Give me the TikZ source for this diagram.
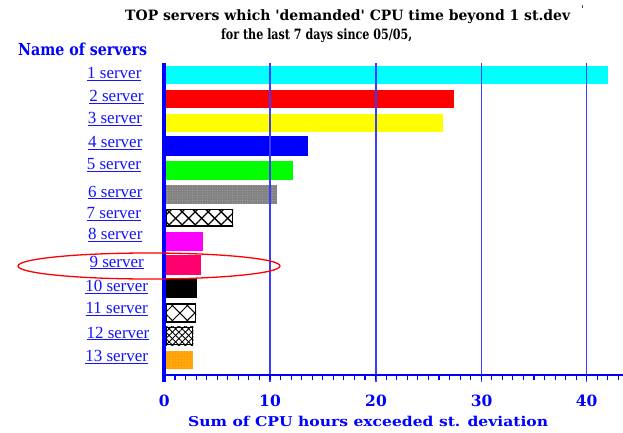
\documentclass[tikz,border=0pt]{standalone}
\usepackage{fontspec}
\setmainfont{Liberation Serif}
\newfontfamily\heavyserif{DejaVu Serif}
\usepackage{graphicx}
\usetikzlibrary{patterns.meta}
\definecolor{axisblue}{RGB}{0,0,255}
\definecolor{gridblue}{RGB}{60,60,255}
\definecolor{linkblue}{RGB}{20,20,255}
\definecolor{barcyan}{RGB}{0,255,255}
\definecolor{barred}{RGB}{255,0,0}
\definecolor{baryellow}{RGB}{255,255,0}
\definecolor{barblue}{RGB}{0,0,255}
\definecolor{bargreen}{RGB}{0,255,0}
\definecolor{bargray}{RGB}{130,130,130}
\definecolor{bargraydot}{RGB}{170,170,170}
\definecolor{barmagenta}{RGB}{255,0,255}
\definecolor{barpink}{RGB}{255,0,110}
\definecolor{barorange}{RGB}{255,160,0}
\definecolor{barorangedot}{RGB}{255,200,90}
\begin{document}
\begin{tikzpicture}[x=1pt,y=-1pt,
  lbl/.style={anchor=base, inner sep=0pt, text=linkblue, font=\fontsize{17}{17}\selectfont},
  num/.style={anchor=base, inner sep=0pt, text=axisblue},
  ttl/.style={anchor=base west, inner sep=0pt},
  hatchline/.style={draw=black, line width=1.4pt},
  gridline/.style={draw=gridblue, line width=1.3pt},
  tickline/.style={draw=axisblue, line width=1.1pt}]
\useasboundingbox (0,0) rectangle (623,433);
\fill[white] (0,0) rectangle (623,433);

% titles
\node[ttl] (title1) at (125,20.7) {\resizebox{445pt}{10.8pt}{\heavyserif\bfseries\vphantom{/}TOP servers which \textquotesingle demanded\textquotesingle\ CPU time beyond 1 st.dev}};
\node[ttl] (title2) at (221,39.5) {\resizebox{191pt}{10.8pt}{\heavyserif\bfseries\vphantom{/}for the last 7 days since 05/05,}};
\fill[black!70] (581.5,5.5) rectangle (583,8);
\node[ttl, text=axisblue] (yname) at (18,55.7) {\resizebox{129pt}{12.5pt}{\heavyserif\bfseries Name of servers}};
\node[ttl, text=axisblue] (xname) at (188,426.7) {\resizebox{360pt}{10.3pt}{\heavyserif\bfseries Sum of CPU hours exceeded st. deviation}};

% bars
\fill[barcyan] (165.7,66) rectangle (607.7,84);
\fill[barred] (165.7,90) rectangle (454,108.3);
\fill[baryellow] (165.7,114) rectangle (443.3,132.3);
\fill[barblue] (165.7,136) rectangle (308.3,156);
\fill[bargreen] (165.7,160.7) rectangle (293,180);
\fill[bargray] (165.7,185) rectangle (277,204);
\fill[pattern={Dots[distance=2.5pt,radius=0.5pt]}, pattern color=bargraydot] (165.7,185) rectangle (277,204);
% bar 7
\fill[white] (165.7,209) rectangle (233,226.7);
\fill[pattern={Lines[angle=45,distance=9.2pt,line width=1.3pt]}, pattern color=black] (165.7,209) rectangle (233,226.7);
\fill[pattern={Lines[angle=-45,distance=9.2pt,line width=1.3pt]}, pattern color=black] (165.7,209) rectangle (233,226.7);
\draw[hatchline] (166.4,209.7) rectangle (232.3,226);
\fill[barmagenta] (165.7,232) rectangle (202.7,250.7);
\fill[barpink] (165.7,255) rectangle (200.7,275);
\fill[black] (165.7,279) rectangle (197,298);
% bar 11
\fill[white] (165.7,303.3) rectangle (196,322.7);
\fill[pattern={Lines[angle=45,distance=10.6pt,line width=1pt]}, pattern color=black] (165.7,303.3) rectangle (196,322.7);
\fill[pattern={Lines[angle=-45,distance=10.6pt,line width=1pt]}, pattern color=black] (165.7,303.3) rectangle (196,322.7);
\draw[hatchline] (166.4,304) rectangle (195.3,322);
% bar 12
\fill[white] (165.7,326.7) rectangle (193.3,345);
\fill[pattern={Lines[angle=45,distance=4.6pt,line width=0.9pt]}, pattern color=black] (165.7,326.7) rectangle (193.3,345);
\fill[pattern={Lines[angle=-45,distance=4.6pt,line width=0.9pt]}, pattern color=black] (165.7,326.7) rectangle (193.3,345);
\draw[hatchline] (166.4,327.4) rectangle (192.6,344.3);
% bar 13
\fill[barorange] (165.7,350.7) rectangle (192.7,369.3);
\fill[pattern={Dots[distance=3pt,radius=0.6pt]}, pattern color=barorangedot] (165.7,350.7) rectangle (192.7,369.3);

% grid lines
\foreach \gx in {270,376,481.7,586.7} {
  \draw[gridline] (\gx,63) -- (\gx,382);
}
% x axis and ticks
\draw[draw=axisblue, line width=1.5pt] (162,375) -- (623,375);
\foreach \v in {1,...,43} {
  \draw[tickline] ({164.4+10.56*\v},375) -- ({164.4+10.56*\v},379.5);
}
% y axis
\draw[draw=axisblue, line width=4pt] (163.7,63) -- (163.7,382);

% axis numbers
\node[num] (n0) at (164.3,406.7) {\resizebox{!}{11.5pt}{\heavyserif\bfseries 0}};
\node[num] (n10) at (270,406.7) {\resizebox{!}{11.5pt}{\heavyserif\bfseries 10}};
\node[num] (n20) at (376,406.7) {\resizebox{!}{11.5pt}{\heavyserif\bfseries 20}};
\node[num] (n30) at (481.7,406.7) {\resizebox{!}{11.5pt}{\heavyserif\bfseries 30}};
\node[num] (n40) at (586.7,406.7) {\resizebox{!}{11.5pt}{\heavyserif\bfseries 40}};

% labels
\node[lbl] (s1) at (114.3,78.5) {\underline{1 server}};
\node[lbl] (s2) at (116.5,102) {\underline{2 server}};
\node[lbl] (s3) at (115,123.5) {\underline{3 server}};
\node[lbl] (s4) at (115.3,147.5) {\underline{4 server}};
\node[lbl] (s5) at (114,169.5) {\underline{5 server}};
\node[lbl] (s6) at (115.3,197) {\underline{6 server}};
\node[lbl] (s7) at (113.8,218.5) {\underline{7 server}};
\node[lbl] (s8) at (115.3,239.5) {\underline{8 server}};
\node[lbl] (s9) at (116.7,267) {\underline{9 server}};
\node[lbl] (s10) at (116.7,291.5) {\underline{10 server}};
\node[lbl] (s11) at (116.7,313.5) {\underline{11 server}};
\node[lbl] (s12) at (118,338) {\underline{12 server}};
\node[lbl] (s13) at (116.7,361.5) {\underline{13 server}};

% highlight ellipse
\draw[red, line width=1.3pt] (149,266) ellipse [x radius=131pt, y radius=13pt];
\end{tikzpicture}
\end{document}
